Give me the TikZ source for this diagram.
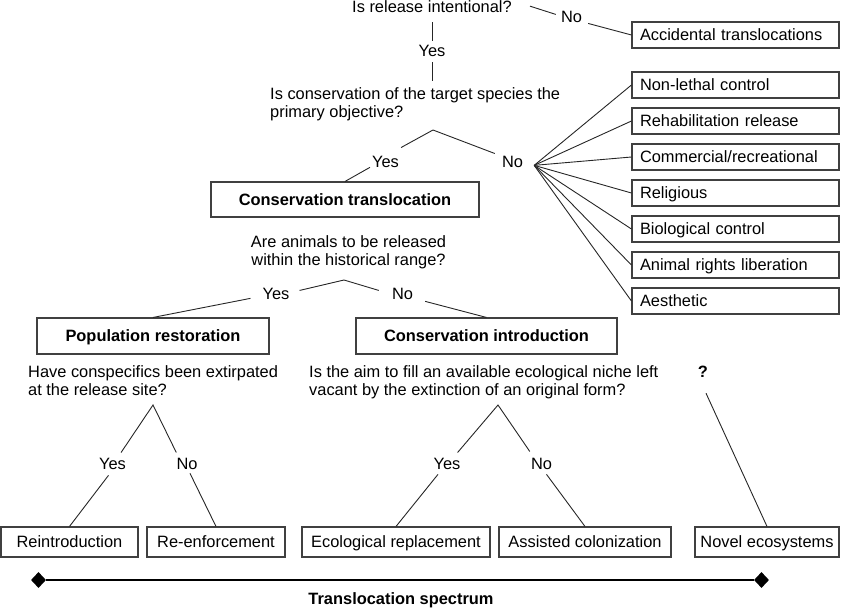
\documentclass[tikz,border=0pt]{standalone}
\usepackage{fontspec}
\setmainfont{Liberation Sans}
\usetikzlibrary{shapes.geometric}
\newcommand{\chartsize}{\fontsize{16.4}{18}\selectfont}
\begin{document}
\begin{tikzpicture}[x=1pt,y=-1pt,font=\chartsize,
    txt/.style={inner sep=0pt, align=left},
    ans/.style={inner sep=0pt, anchor=base},
    box/.style={draw=black!75, line width=1.1pt, inner sep=0pt, text height=12pt, text depth=0.5pt, minimum height=30pt, align=center},
    key/.style={box, font=\chartsize\bfseries, minimum height=36pt},
    sidebox/.style={draw=black!75, line width=1.1pt, inner ysep=0pt, inner xsep=8pt, text width=191pt, text height=12pt, text depth=0.5pt, minimum height=26pt, align=left},
    tip/.style={diamond, fill=black, inner sep=0pt, minimum width=15pt, minimum height=16pt},
    link/.style={line width=0.9pt, black!85}]
    \useasboundingbox (0,0) rectangle (847,608);
    \node[txt, anchor=base] (q1) at (432,12) {Is release intentional?};
    \node[ans] (no1) at (571.5,22) {No};
    \node[ans] (yes1) at (432,56) {Yes};
    \node[sidebox] (acc) at (735.5,35) {Accidental translocations};
    \node[txt, anchor=north west] (q2) at (270,87) {Is conservation of the target species the\\primary objective?};
    \node[ans] (yes2) at (385.5,167) {Yes};
    \node[ans] (no2) at (512.5,167) {No};
    \node[key, minimum width=268pt, minimum height=35pt] (ct) at (345,199.5) {Conservation translocation};
    \node[sidebox] (nl) at (735.5,85) {Non-lethal control};
    \node[sidebox] (rh) at (735.5,121) {Rehabilitation release};
    \node[sidebox] (cr) at (735.5,157) {Commercial/recreational};
    \node[sidebox] (rl) at (735.5,193) {Religious};
    \node[sidebox] (bc) at (735.5,229) {Biological control};
    \node[sidebox] (ar) at (735.5,265) {Animal rights liberation};
    \node[sidebox] (ae) at (735.5,301) {Aesthetic};
    \node[txt, align=center, anchor=north] (q3) at (348.5,235) {Are animals to be released\\within the historical range?};
    \node[ans] (yes3) at (276,299) {Yes};
    \node[ans] (no3) at (402.5,299) {No};
    \node[key, minimum width=232pt] (pr) at (153,336) {Population restoration};
    \node[key, minimum width=261pt] (ci) at (486.5,336) {Conservation introduction};
    \node[txt, anchor=north west] (q4) at (28,365) {Have conspecifics been extirpated\\at the release site?};
    \node[txt, anchor=north west] (q5) at (309,365) {Is the aim to fill an available ecological niche left\\vacant by the extinction of an original form?};
    \node[ans, font=\chartsize\bfseries] (qm) at (703,377) {?};
    \node[ans] (yes4) at (112.5,469) {Yes};
    \node[ans] (no4) at (187,469) {No};
    \node[ans] (yes5) at (447,469) {Yes};
    \node[ans] (no5) at (541.5,469) {No};
    \node[box, minimum width=137pt] (ri) at (69.5,542) {Reintroduction};
    \node[box, minimum width=138pt] (re) at (216,542) {Re-enforcement};
    \node[box, minimum width=188pt] (er) at (396,542) {Ecological replacement};
    \node[box, minimum width=172pt] (ac) at (585,542) {Assisted colonization};
    \node[box, minimum width=144pt] (ne) at (767,542) {Novel ecosystems};
    \node[tip] (sl) at (38.5,580) {};
    \node[tip] (sr) at (761.5,580) {};
    \node[ans, font=\chartsize\bfseries] (spec) at (401,604) {Translocation spectrum};
    \coordinate (f2) at (433,130);
    \coordinate (f3) at (344,280);
    \coordinate (f4) at (153,405);
    \coordinate (f5) at (498,405);
    \coordinate (fan) at ([shift={(11,-2)}]no2.south east);
    \draw[link] ([shift={(18,0)}]q1.east) -- ([shift={(-5,-2)}]no1.west);
    \draw[link] ([shift={(6,7)}]no1.east) -- (acc.west);
    \draw[link] ([shift={(0,10)}]q1.south) -- ([shift={(0,-4)}]yes1.north);
    \draw[link] ([shift={(0,6)}]yes1.south) -- ([shift={(0,-6)}]yes1.south |- q2.north);
    \draw[link] ([shift={(2,-8)}]yes2.north east) -- (f2) -- ([shift={(-7,-2)}]no2.north west);
    \draw[link] ([shift={(-2,0)}]yes2.south west) -- (ct.north);
    \foreach \b in {nl,rh,cr,rl,bc,ar,ae}
        \draw[link] (fan) -- (\b.west);
    \draw[link] ([shift={(10,-3)}]yes3.east) -- (f3) -- ([shift={(-13,-3)}]no3.west);
    \draw[link] ([shift={(-12,-1)}]yes3.south west) -- (pr.north);
    \draw[link] ([shift={(12,2)}]no3.south east) -- (ci.north);
    \draw[link] ([shift={(-5,-5)}]yes4.north east) -- (f4) -- ([shift={(0,-5)}]no4.north west);
    \draw[link] ([shift={(-4,6)}]yes4.south) -- (ri.north);
    \draw[link] ([shift={(3,4)}]no4.south) -- (re.north);
    \draw[link] ([shift={(-3,-5)}]yes5.north east) -- (f5) -- ([shift={(-1,-6)}]no5.north west);
    \draw[link] ([shift={(-9,5)}]yes5.south) -- (er.north);
    \draw[link] ([shift={(5,5)}]no5.south) -- (ac.north);
    \draw[link] ([shift={(3,16)}]qm.south) -- (ne.north);
    \draw[line width=2pt] (sl) -- (sr);
\end{tikzpicture}
\end{document}
